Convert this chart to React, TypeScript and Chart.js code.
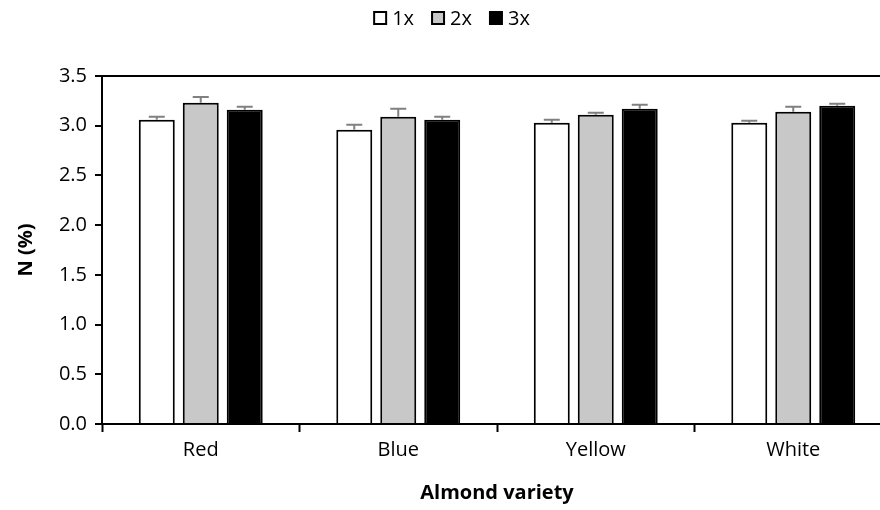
import React, { useEffect, useRef } from "react";
import { Chart, registerables } from "chart.js";

Chart.register(...registerables);

// Nitrogen content by almond variety and application rate
const varieties = ["Red", "Blue", "Yellow", "White"];
const seriesNames = ["1x", "2x", "3x"];
const n1x = [3.06, 2.96, 3.03, 3.03];
const n2x = [3.23, 3.09, 3.11, 3.14];
const n3x = [3.16, 3.06, 3.17, 3.2];
const err1x = [0.03, 0.05, 0.03, 0.02];
const err2x = [0.06, 0.08, 0.02, 0.05];
const err3x = [0.03, 0.03, 0.04, 0.02];
const yTicks = [0, 0.5, 1.0, 1.5, 2.0, 2.5, 3.0, 3.5];

const FONT = "'Open Sans', 'DejaVu Sans', sans-serif";
const fills = ["#ffffff", "#c8c8c8", "#000000"];
const errors = [err1x, err2x, err3x];

// Upward-only error whiskers with caps
const errorBarPlugin = {
  id: "errorBars",
  afterDatasetsDraw(chart: any) {
    const { ctx, scales } = chart;
    ctx.save();
    ctx.strokeStyle = "#808080";
    ctx.lineWidth = 2;
    chart.data.datasets.forEach((ds: any, i: number) => {
      const meta = chart.getDatasetMeta(i);
      meta.data.forEach((bar: any, j: number) => {
        const v = ds.data[j];
        const e = errors[i][j];
        const yTop = scales.y.getPixelForValue(v + e);
        const yBar = scales.y.getPixelForValue(v);
        ctx.beginPath();
        ctx.moveTo(bar.x, yBar);
        ctx.lineTo(bar.x, yTop);
        ctx.moveTo(bar.x - 8, yTop);
        ctx.lineTo(bar.x + 8, yTop);
        ctx.stroke();
      });
    });
    ctx.restore();
  },
};

// Legend row across the top
const legendPlugin = {
  id: "topLegend",
  afterDraw(chart: any) {
    const { ctx } = chart;
    ctx.save();
    ctx.font = `20px ${FONT}`;
    ctx.textBaseline = "middle";
    ctx.fillStyle = "#000";
    const box = 12;
    const gap = 6;
    const spacing = 18;
    const widths = seriesNames.map((s) => box + gap + ctx.measureText(s).width);
    const total = widths.reduce((a, b) => a + b, 0) + spacing * (seriesNames.length - 1);
    let x = 452 - total / 2;
    const cy = 18;
    seriesNames.forEach((s, i) => {
      ctx.fillStyle = fills[i];
      ctx.fillRect(x, cy - box / 2, box, box);
      ctx.strokeStyle = "#000";
      ctx.lineWidth = 2;
      ctx.strokeRect(x, cy - box / 2, box, box);
      ctx.fillStyle = "#000";
      ctx.textAlign = "left";
      ctx.fillText(s, x + box + gap, cy + 1);
      x += widths[i] + spacing;
    });
    ctx.restore();
  },
};

export default function App() {
  const canvasRef = useRef<HTMLCanvasElement | null>(null);

  useEffect(() => {
    if (!canvasRef.current) return;
    const series = [n1x, n2x, n3x];
    const chart = new Chart(canvasRef.current, {
      type: "bar",
      data: {
        labels: varieties,
        datasets: series.map((d, i) => ({
          label: seriesNames[i],
          data: d,
          backgroundColor: fills[i],
          borderColor: "#000",
          borderWidth: 2,
          categoryPercentage: 0.668,
          barPercentage: 0.818,
        })),
      },
      options: {
        responsive: false,
        animation: false,
        devicePixelRatio: 1,
        layout: { padding: { top: 76, left: 0, right: 0, bottom: 0 } },
        plugins: {
          legend: { display: false },
          tooltip: { enabled: false },
        },
        scales: {
          x: {
            offset: true,
            grid: {
              drawOnChartArea: false,
              tickColor: "#000",
              tickLength: 8,
              tickWidth: 2,
              offset: true,
            },
            border: { color: "#000", width: 2 },
            ticks: {
              color: "#000",
              padding: 6,
              font: { family: FONT, size: 20 },
            },
            title: {
              display: true,
              text: "Almond variety",
              color: "#000",
              font: { family: FONT, size: 20, weight: "bold" },
              padding: { top: 0, bottom: 5 },
            },
            afterFit(scale: any) {
              scale.height = 86;
            },
          },
          y: {
            min: 0,
            max: 3.5,
            afterBuildTicks(scale: any) {
              scale.ticks = yTicks.map((v) => ({ value: v }));
            },
            grid: {
              color: (c: any) => (c.tick && c.tick.value === 3.5 ? "#000" : "rgba(0,0,0,0)"),
              lineWidth: 2,
              tickColor: "#000",
              tickLength: 7,
              tickWidth: 2,
            },
            border: { color: "#000", width: 2 },
            ticks: {
              color: "#000",
              padding: 8,
              font: { family: FONT, size: 20 },
              callback: (v: any) => Number(v).toFixed(1),
            },
            title: {
              display: true,
              text: "N (%)",
              color: "#000",
              font: { family: FONT, size: 20, weight: "bold" },
              padding: { top: 14, bottom: 0 },
            },
            afterFit(scale: any) {
              scale.width = 102;
            },
          },
        },
      },
      plugins: [errorBarPlugin, legendPlugin],
    });
    return () => chart.destroy();
  }, []);

  return (
    <div
      style={{
        position: "fixed",
        left: 0,
        top: 0,
        width: 880,
        height: 510,
        overflow: "hidden",
        background: "#fff",
      }}
    >
      <canvas ref={canvasRef} width={892} height={510} style={{ display: "block" }} />
    </div>
  );
}
